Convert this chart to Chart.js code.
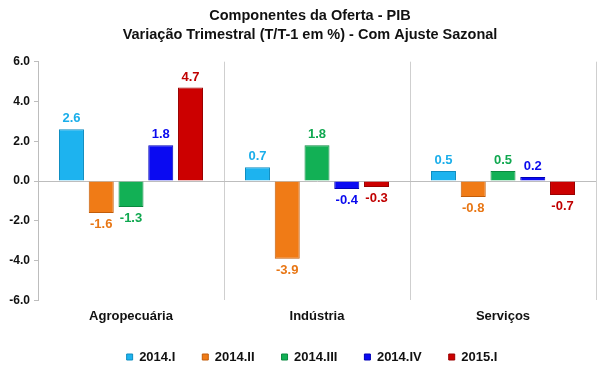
<!DOCTYPE html>
<html>
<head>
<meta charset="utf-8">
<script src="https://cdn.jsdelivr.net/npm/chart.js@4"></script>
<style>
  html, body { margin: 0; padding: 0; background: #fff; }
  #wrap { width: 600px; height: 368px; }
</style>
</head>
<body>
<div id="wrap"><canvas id="c" width="600" height="368"></canvas></div>
<script>
const categories = ['Agropecuária', 'Indústria', 'Serviços'];
const seriesNames = ['2014.I', '2014.II', '2014.III', '2014.IV', '2015.I'];
const s2014I   = [2.6, 0.7, 0.5];
const s2014II  = [-1.6, -3.9, -0.8];
const s2014III = [-1.3, 1.8, 0.5];
const s2014IV  = [1.8, -0.4, 0.2];
const s2015I   = [4.7, -0.3, -0.7];
const yTicks = [-6, -4, -2, 0, 2, 4, 6];
const titleLines = ['Componentes da Oferta - PIB', 'Variação Trimestral (T/T-1 em %) - Com Ajuste Sazonal'];

const fills   = ['#1DB3EF', '#F07B16', '#12B055', '#0A0AF2', '#CC0000'];
const borders = ['#0F8DC0', '#C25D0A', '#0A8A40', '#0000B8', '#9A0000'];
const labelColors = ['#1AAEEA', '#E87614', '#10A850', '#0A0AEE', '#C00000'];
const seriesValues = [s2014I, s2014II, s2014III, s2014IV, s2015I];

const FONT = 'Liberation Sans, Arial, sans-serif';
const LEGEND_PAD = 27;

const dataLabels = {
  id: 'dataLabels',
  afterDatasetsDraw(chart) {
    const ctx = chart.ctx;
    ctx.save();
    ctx.font = 'bold 13px ' + FONT;
    ctx.textAlign = 'center';
    ctx.textBaseline = 'middle';
    chart.data.datasets.forEach((ds, i) => {
      const meta = chart.getDatasetMeta(i);
      meta.data.forEach((bar, j) => {
        const v = ds.data[j];
        ctx.fillStyle = labelColors[i];
        if (v >= 0) {
          ctx.fillText(v.toFixed(1), bar.x, bar.y - 10.5);
        } else {
          ctx.fillText(v.toFixed(1), bar.x, bar.y + 11.5);
        }
      });
    });
    ctx.restore();
  }
};

// Shift title and legend so they are centred like the original (over x≈312),
// and let the legend keep wide item spacing without a tall box.
const layoutTweaks = {
  id: 'layoutTweaks',
  beforeLayout(chart) {
    const lg = chart.legend;
    if (lg && !lg._tweaked) {
      lg._tweaked = true;
      const fit = lg.fit.bind(lg);
      lg.fit = function () { fit(); this.height = 36; };
      const inner = lg._draw.bind(lg);
      lg.draw = function () {
        const ctx = this.ctx;
        ctx.save();
        ctx.translate(14, -8.5);
        inner();
        ctx.restore();
      };
    }
    const tb = chart.titleBlock;
    if (tb && !tb._tweaked) {
      tb._tweaked = true;
      const d = tb.draw.bind(tb);
      tb.draw = function () {
        const ctx = this.ctx;
        ctx.save();
        ctx.translate(12, 0);
        d();
        ctx.restore();
      };
    }
  }
};

new Chart(document.getElementById('c'), {
  type: 'bar',
  data: {
    labels: categories,
    datasets: seriesNames.map((name, i) => ({
      label: name,
      data: seriesValues[i],
      backgroundColor: fills[i],
      borderColor: borders[i],
      borderWidth: 1,
      categoryPercentage: 0.8,
      barPercentage: 0.84
    }))
  },
  options: {
    responsive: false,
    devicePixelRatio: 1,
    animation: false,
    layout: { padding: { left: 0, right: 4, top: 0, bottom: 0 } },
    plugins: {
      title: {
        display: true,
        text: titleLines,
        color: '#111',
        font: { family: FONT, size: 14.5, weight: 'bold', lineHeight: 1.3 },
        padding: { top: 7, bottom: 17 }
      },
      legend: {
        position: 'bottom',
        labels: {
          color: '#111',
          font: { family: FONT, size: 13, weight: 'bold' },
          boxWidth: 6,
          boxHeight: 6,
          padding: LEGEND_PAD
        }
      },
      tooltip: { enabled: false }
    },
    scales: {
      x: {
        grid: { color: '#cfcfcf', drawTicks: false, offset: true },
        border: { display: false },
        ticks: { color: '#111', font: { family: FONT, size: 13, weight: 'bold' }, padding: 8 }
      },
      y: {
        min: -6, max: 6,
        afterFit(scale) { scale.width = 38; },
        afterBuildTicks(scale) { scale.ticks = yTicks.map(v => ({ value: v })); },
        grid: {
          color: (c) => (c.tick && c.tick.value === 0 ? '#bdbdbd' : 'rgba(0,0,0,0)'),
          tickColor: '#bdbdbd',
          tickLength: 4
        },
        border: { display: true, color: '#bdbdbd' },
        ticks: {
          color: '#111',
          font: { family: FONT, size: 12, weight: 'bold' },
          padding: 4,
          callback: (v) => Number(v).toFixed(1)
        }
      }
    }
  },
  plugins: [dataLabels, layoutTweaks]
});
</script>
</body>
</html>
